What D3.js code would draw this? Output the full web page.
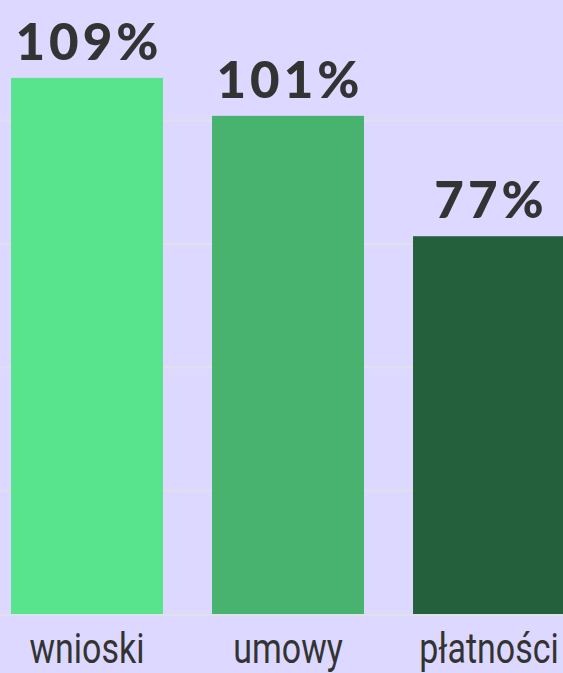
<!DOCTYPE html>
<html>
<head>
<meta charset="utf-8">
<script src="https://cdn.jsdelivr.net/npm/d3@7"></script>
<style>
  html, body { margin: 0; padding: 0; background: #dcd8ff; overflow: hidden; }
  svg { display: block; }
</style>
</head>
<body>
<svg width="563" height="673"></svg>
<script>
// data
const categories = ['wnioski', 'umowy', 'płatności']
const values = [108.7, 101, 76.6]
const valueLabels = ['109%', '101%', '77%']
const gridTicks = [0, 25, 50, 75, 100]
const colors = ['#58e48c', '#47b36f', '#25603c']

const svg = d3.select('svg'),
      width = +svg.attr('width'),
      height = +svg.attr('height')

const x = d3.scaleBand()
  .domain(categories)
  .range([11, 565])
  .paddingInner(0.244)
  .paddingOuter(0)

const y = d3.scaleLinear()
  .domain([0, 125])
  .range([614, -2.5])

// gridlines
svg.append('g')
  .attr('class', 'grid')
  .selectAll('line')
  .data(gridTicks)
  .enter().append('line')
  .attr('x1', 0)
  .attr('x2', width)
  .attr('y1', d => y(d) + (d === 0 ? 1 : 0))
  .attr('y2', d => y(d) + (d === 0 ? 1 : 0))
  .attr('stroke', '#e2e0e8')
  .attr('stroke-width', 2)

let data = categories.map((c, i) => ({ cat: c, value: values[i], label: valueLabels[i], color: colors[i] }))

svg.append('g')
  .selectAll('rect')
  .data(data)
  .enter().append('rect')
  .attr('x', d => x(d.cat))
  .attr('y', d => y(d.value))
  .attr('width', x.bandwidth())
  .attr('height', d => y(0) - y(d.value))
  .attr('fill', d => d.color)

// value labels above bars (letter-spacing adds a trailing gap, so nudge right)
svg.append('g')
  .selectAll('text')
  .data(data)
  .enter().append('text')
  .attr('x', d => x(d.cat) + x.bandwidth() / 2 + 2)
  .attr('y', d => y(d.value) - 18)
  .attr('text-anchor', 'middle')
  .attr('fill', '#333333')
  .style('font-family', 'Lato, "Open Sans", sans-serif')
  .style('font-weight', 900)
  .style('font-size', '51px')
  .style('letter-spacing', '4px')
  .text(d => d.label)

// category labels, narrowed to look condensed
svg.append('g')
  .selectAll('text')
  .data(data)
  .enter().append('text')
  .attr('transform', d => `translate(${x(d.cat) + x.bandwidth() / 2},663) scale(0.79,1)`)
  .attr('text-anchor', 'middle')
  .attr('fill', '#333333')
  .style('font-family', 'Roboto, sans-serif')
  .style('font-size', '43px')
  .text(d => d.cat)
</script>
</body>
</html>
